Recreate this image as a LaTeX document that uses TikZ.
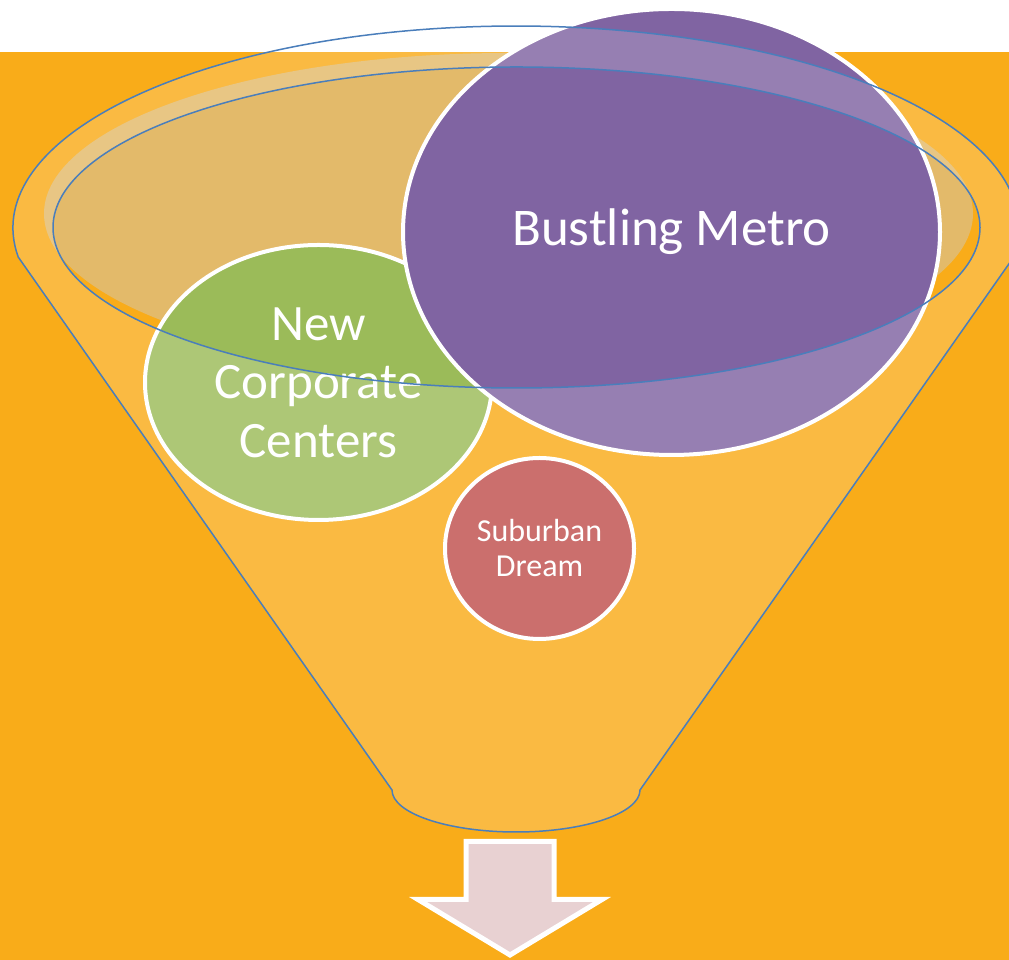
\documentclass[tikz,border=0pt]{standalone}
\usepackage{fontspec}
\setmainfont{Carlito}
\usetikzlibrary{shapes.geometric}

\definecolor{bgorange}{HTML}{F9AC19}
\definecolor{backface}{HTML}{E3BA6A}
\definecolor{rimblue}{HTML}{4A7EBB}
\definecolor{metropurple}{HTML}{8064A2}
\definecolor{corpgreen}{HTML}{9BBB59}
\definecolor{suburbred}{HTML}{C0504D}
\definecolor{arrowpink}{HTML}{E8D1D2}

\tikzset{
  bubble/.style={ellipse, draw=white, line width=4pt, inner sep=0pt,
    text=white, align=center},
  rimline/.style={draw=rimblue, line width=1.5pt},
  funnelfront/.style={rimline, fill=white, fill opacity=0.18, even odd rule},
  downarrow/.style={draw=white, line width=5pt, fill=arrowpink, line join=miter}
}

\begin{document}
\begin{tikzpicture}[x=1pt,y=1pt]
\useasboundingbox (0,0) rectangle (1009,960);

% backdrop: white strip on top, orange field below
\fill[white] (0,0) rectangle (1009,960);
\fill[bgorange] (0,0) rectangle (1009,908);

% inner face of the funnel mouth
\fill[backface] (508.5,746.4) ellipse [x radius=464.5, y radius=160.6];

% bubbles inside the funnel
\node[bubble, fill=corpgreen, minimum width=347pt, minimum height=275pt,
      font=\fontsize{51}{58.5}\selectfont] (corp) at (318.5,577.5)
      {New\\Corporate\\Centers};
\node[bubble, fill=metropurple, minimum width=537pt, minimum height=446pt,
      font=\fontsize{53}{64}\selectfont] (metro) at (671.5,728)
      {Bustling Metro};
\node[bubble, fill=suburbred, minimum width=189pt, minimum height=181pt,
      font=\fontsize{32}{35}\selectfont] (suburb) at (539.5,411.5)
      {Suburban\\Dream};

% translucent front wall of the funnel with its rim
\path[funnelfront]
  (18.2,703) arc[start angle=188.25, end angle=-8.25, x radius=503, y radius=202]
  -- (640,170) arc[start angle=0, end angle=-180, x radius=124, y radius=42]
  -- cycle
  (516.5,732.5) ellipse [x radius=463.5, y radius=160.5];

% output arrow below the funnel
\draw[downarrow] (466,118.5) -- (554,118.5) -- (554,60.5) -- (602,60.5)
  -- (510,5) -- (418,60.5) -- (466,60.5) -- cycle;
\end{tikzpicture}
\end{document}
